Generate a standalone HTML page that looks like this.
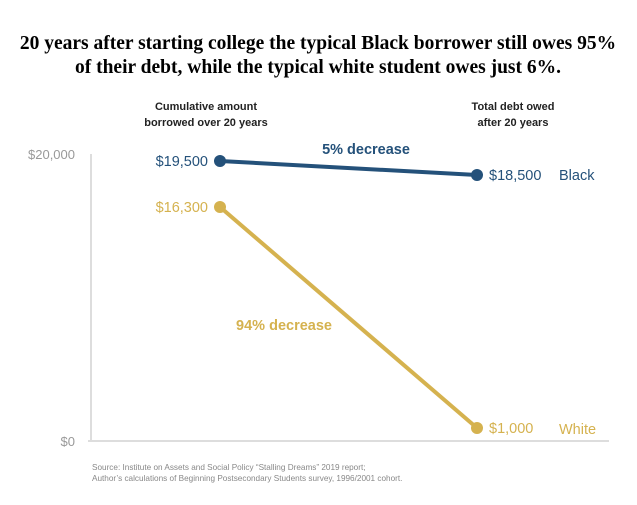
<!DOCTYPE html>
<html><head><style>
body{margin:0;background:#fff;}
</style></head><body>
<svg width="637" height="500" xmlns="http://www.w3.org/2000/svg">
<rect width="637" height="500" fill="#fff"/>
<g font-family="Liberation Serif, serif" font-weight="bold" font-size="19.5" fill="#000" text-anchor="middle">
<text x="318" y="49">20 years after starting college the typical Black borrower still owes 95%</text>
<text x="318" y="73">of their debt, while the typical white student owes just 6%.</text>
</g>
<g font-family="Liberation Sans, sans-serif" font-weight="bold" font-size="11" fill="#222" text-anchor="middle">
<text x="206" y="110">Cumulative amount</text>
<text x="206" y="126">borrowed over 20 years</text>
<text x="513" y="110">Total debt owed</text>
<text x="513" y="126">after 20 years</text>
</g>
<line x1="91" y1="154" x2="91" y2="441" stroke="#ddd" stroke-width="2"/>
<line x1="88" y1="441" x2="609" y2="441" stroke="#ddd" stroke-width="2"/>
<g font-family="Liberation Sans, sans-serif" font-size="13" fill="#999" text-anchor="end">
<text x="75" y="159">$20,000</text>
<text x="75" y="446">$0</text>
</g>
<line x1="220" y1="161" x2="477" y2="175" stroke="#24517a" stroke-width="4"/>
<circle cx="220" cy="161" r="6" fill="#24517a"/>
<circle cx="477" cy="175" r="6" fill="#24517a"/>
<line x1="220" y1="207" x2="477" y2="428" stroke="#d5b24f" stroke-width="4"/>
<circle cx="220" cy="207" r="6" fill="#d5b24f"/>
<circle cx="477" cy="428" r="6" fill="#d5b24f"/>
<g font-family="Liberation Sans, sans-serif" font-size="14.5">
<text x="208" y="166" text-anchor="end" fill="#24517a">$19,500</text>
<text x="489" y="180" fill="#24517a">$18,500</text>
<text x="559" y="180" fill="#24517a">Black</text>
<text x="208" y="212" text-anchor="end" fill="#d5b24f">$16,300</text>
<text x="489" y="433" fill="#d5b24f">$1,000</text>
<text x="559" y="434" fill="#d5b24f">White</text>
<text x="366" y="154" text-anchor="middle" fill="#24517a" font-weight="bold">5% decrease</text>
<text x="284" y="330" text-anchor="middle" fill="#d5b24f" font-weight="bold">94% decrease</text>
</g>
<g font-family="Liberation Sans, sans-serif" font-size="8.2" fill="#888">
<text x="92" y="470">Source: Institute on Assets and Social Policy “Stalling Dreams” 2019 report;</text>
<text x="92" y="481">Author’s calculations of Beginning Postsecondary Students survey, 1996/2001 cohort.</text>
</g>
</svg>
</body></html>
